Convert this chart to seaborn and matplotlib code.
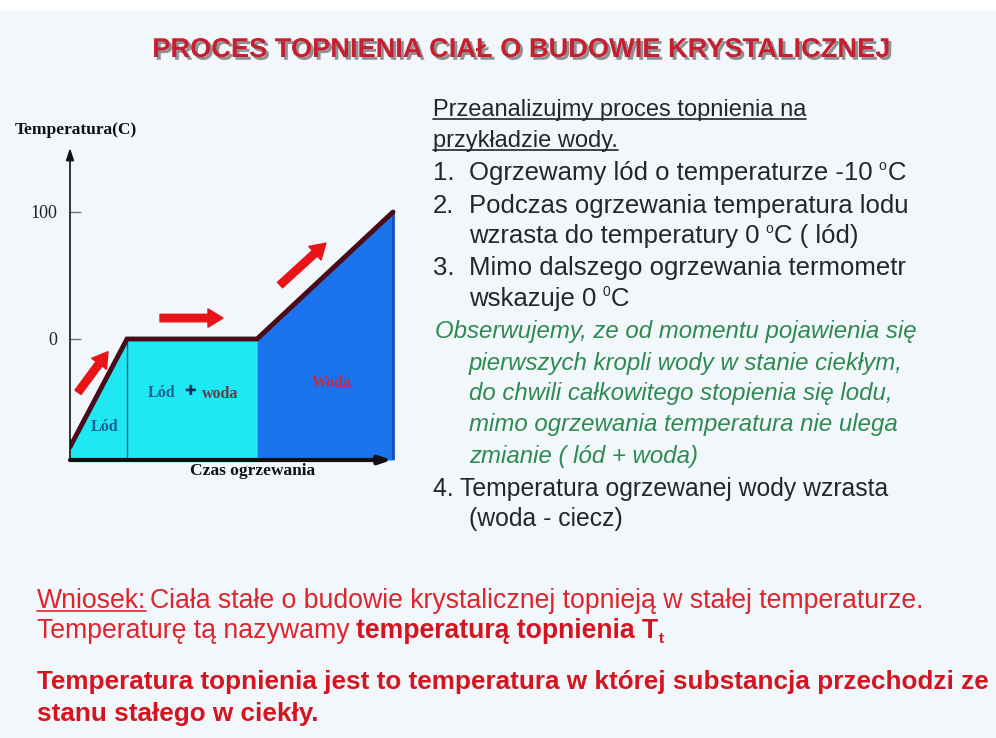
import numpy as np
import pandas as pd
import matplotlib
matplotlib.use("Agg")
import matplotlib.pyplot as plt
import matplotlib.patheffects as pe
from matplotlib.lines import Line2D
import seaborn as sns

# --- data (graph is schematic, not to scale) ---
czas = [0.0, 5.7, 18.7, 32.3]          # heating time (arbitrary units)
temperatura = [-85.0, 0.0, 0.0, 100.0]  # temperature as drawn
y_ticks = [0, 100]
y_tick_labels = ["0", "100"]
strefy = ["Lód", "Lód + woda", "Woda"]

W, H = 996, 738
BG = "#f1f7fb"

sns.set_theme(style="white")
plt.rcParams["font.family"] = ["Liberation Sans", "DejaVu Sans"]


def fx(px):
    return px / W


def fy(py):
    return 1 - py / H


fig = plt.figure(figsize=(W / 100, H / 100), dpi=100, facecolor=BG)
fig.add_artist(plt.Rectangle((0, fy(11)), 1, 11 / H, transform=fig.transFigure,
                             facecolor="white", edgecolor="none"))

# --- chart: axes box in pixels: left 70, right 400, top 140, bottom 460 ---
ax = fig.add_axes([fx(70), fy(460), (400 - 70) / W, (460 - 140) / H])
ax.set_facecolor("none")
ymin, ymax = (339 - 460) / 1.27, (339 - 140) / 1.27
ax.set_xlim(0, 33)
ax.set_ylim(ymin, ymax)

df = pd.DataFrame({"czas": czas, "temperatura": temperatura})
ax.fill_between(czas[:3], temperatura[:3], ymin, color="#1ee8f2", lw=0)
ax.fill_between(czas[2:], temperatura[2:], ymin, color="#1a72ec", lw=0)
ax.plot([czas[3], czas[3]], [ymin, temperatura[3]], color="#1450b8", lw=2)
ax.plot([czas[1], czas[1]], [ymin, temperatura[1]], color="#2a5f70", lw=1)
sns.lineplot(data=df, x="czas", y="temperatura", ax=ax, color="#4a0a18",
             lw=3.5, sort=False, solid_joinstyle="miter")

for s in ax.spines.values():
    s.set_visible(False)
ax.set_xticks([])
ax.set_yticks(y_ticks)
ax.set_yticklabels(y_tick_labels, family="Liberation Serif", fontsize=13,
                   color="#222")
ax.tick_params(axis="y", direction="in", length=8, width=1, color="#777",
               pad=9, left=True)
ax.set_xlabel("")
ax.set_ylabel("")

# axes with arrow heads
ax.annotate("", xy=(0, (339 - 148) / 1.27), xytext=(0, ymin),
            arrowprops=dict(arrowstyle="-|>,head_length=0.6,head_width=0.2",
                            color="#111", lw=1.2, shrinkA=0, shrinkB=0))
ax.annotate("", xy=(32.2, ymin), xytext=(0, ymin),
            arrowprops=dict(arrowstyle="-|>,head_length=0.6,head_width=0.2",
                            color="#111", lw=3, shrinkA=0, shrinkB=0))

# red arrows along the curve
red_arrow = dict(arrowstyle="simple,head_length=0.9,head_width=1.1,tail_width=0.45",
                 color="#e81418", shrinkA=0, shrinkB=0)
ax.annotate("", xy=(3.8, -10), xytext=(0.8, -42), arrowprops=red_arrow)
ax.annotate("", xy=(15.3, 16.5), xytext=(9.0, 16.5), arrowprops=red_arrow)
ax.annotate("", xy=(25.6, 75.5), xytext=(21.0, 42.5), arrowprops=red_arrow)

serif_b = dict(family="Liberation Serif", weight="bold", fontsize=11.5)
ax.text(3.5, (339 - 427) / 1.27, strefy[0], color="#1b5d9a", ha="center",
        va="center", **serif_b)
ax.text(9.2, (339 - 393) / 1.27, "Lód", color="#1b5d9a", ha="center",
        va="center", **serif_b)
ax.text(12.0, (339 - 391) / 1.27, "✚", color="#12305a", ha="center",
        va="center", family="DejaVu Sans", fontsize=10, weight="bold")
ax.text(15.0, (339 - 394) / 1.27, "woda", color="#6a3a40", ha="center",
        va="center", **serif_b)
ax.text(26.2, (339 - 383) / 1.27, strefy[2], color="#c42a40", ha="center",
        va="center", **serif_b)

lab_b = dict(serif_b, fontsize=12.5)
fig.text(fx(15), fy(130), "Temperatura(C)", ha="left", va="center",
         color="#111", **lab_b)
fig.text(fx(253), fy(471), "Czas ogrzewania", ha="center", va="center",
         color="#111", **lab_b)

# --- title ---
fig.text(fx(522), fy(57), "PROCES TOPNIENIA CIAŁ O BUDOWIE KRYSTALICZNEJ",
         ha="center", va="baseline", fontsize=19.6, weight="bold",
         color="#c81e30",
         path_effects=[pe.SimplePatchShadow(offset=(2, -2), shadow_rgbFace="#666",
                                            alpha=0.7),
                       pe.Normal()])

fig.canvas.draw()
renderer = fig.canvas.get_renderer()


def runs(x_px, y_px, parts, size, underline_first=False):
    """Write text runs one after another on a baseline (pixel coords)."""
    x = x_px
    for i, (s, kw) in enumerate(parts):
        kw = dict(kw)
        gap = kw.pop("gap", 0)
        dy = kw.pop("dy", 0)
        fs = kw.pop("fs", size)
        x = kw.pop("at", x + gap)
        t = fig.text(fx(x), fy(y_px + dy), s, va="baseline", ha="left",
                     fontsize=fs, **kw)
        bb = t.get_window_extent(renderer)
        if underline_first and i == 0:
            fig.add_artist(Line2D([bb.x0 / W, bb.x1 / W],
                                  [fy(y_px + 3)] * 2, transform=fig.transFigure,
                                  color=kw.get("color", "k"), lw=1.2))
        x = bb.x1


TXT = "#262626"
GREEN = "#2f8a52"
RED = "#e0242c"
RED_B = "#d4141e"
FS_HEAD = 17.0
FS_ITEM = 18.5
FS_GREEN = 17.3
FS_FOUR = 17.8
FS_BOT = 19.2
FS_BOT_B = 18.8

runs(433, 116, [("Przeanalizujmy proces topnienia na", dict(color=TXT))],
     FS_HEAD, True)
runs(433, 147, [("przykładzie wody.", dict(color=TXT))], FS_HEAD, True)
runs(433, 180, [("1.", dict(color=TXT)),
                ("Ogrzewamy lód o temperaturze -10", dict(color=TXT, at=469)),
                ("o", dict(color=TXT, gap=6, fs=10, dy=-10)),
                ("C", dict(color=TXT, gap=1))], FS_ITEM)
runs(433, 213, [("2.", dict(color=TXT)),
                ("Podczas ogrzewania temperatura lodu", dict(color=TXT, at=469))],
     FS_ITEM)
runs(469, 243, [("wzrasta do temperatury 0", dict(color=TXT)),
                ("o", dict(color=TXT, gap=6, fs=10, dy=-10)),
                ("C ( lód)", dict(color=TXT, gap=1))], FS_ITEM)
runs(433, 275, [("3.", dict(color=TXT)),
                ("Mimo dalszego ogrzewania termometr", dict(color=TXT, at=469))],
     FS_ITEM)
runs(469, 306, [("wskazuje 0", dict(color=TXT)),
                ("0", dict(color=TXT, gap=6, fs=10, dy=-10)),
                ("C", dict(color=TXT, gap=1))], FS_ITEM)
green_lines = [(435, 338, "Obserwujemy, ze od momentu pojawienia się"),
               (469, 370, "pierwszych kropli wody w stanie ciekłym,"),
               (469, 400, "do chwili całkowitego stopienia się lodu,"),
               (469, 431, "mimo ogrzewania temperatura nie ulega"),
               (469, 463, "zmianie ( lód + woda)")]
for gx, gy, s in green_lines:
    runs(gx, gy, [(s, dict(color=GREEN, style="italic"))], FS_GREEN)
runs(433, 496, [("4. Temperatura ogrzewanej wody wzrasta", dict(color=TXT))],
     FS_FOUR)
runs(469, 526, [("(woda - ciecz)", dict(color=TXT))], FS_FOUR)

# --- conclusion ---
runs(37, 608, [("Wniosek:", dict(color=RED)),
               ("Ciała stałe o budowie krystalicznej topnieją w stałej temperaturze.",
                dict(color=RED, gap=4))], FS_BOT, True)
runs(37, 638, [("Temperaturę tą nazywamy", dict(color=RED)),
               ("temperaturą topnienia T", dict(color=RED_B, weight="bold", gap=6)),
               ("t", dict(color=RED_B, weight="bold", fs=11, dy=5, gap=1))],
     FS_BOT)
runs(37, 689, [("Temperatura topnienia jest to temperatura w której substancja przechodzi ze",
                dict(color=RED_B, weight="bold"))], FS_BOT_B)
runs(37, 721, [("stanu stałego w ciekły.", dict(color=RED_B, weight="bold"))],
     FS_BOT_B)

fig.savefig("out.png", dpi=100, facecolor=BG)
